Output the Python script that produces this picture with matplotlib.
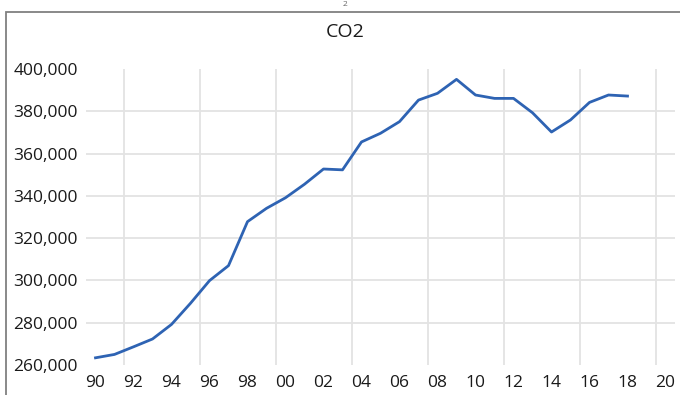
import matplotlib
matplotlib.use("Agg")
import matplotlib.pyplot as plt
from matplotlib.patches import Rectangle
from matplotlib.ticker import FuncFormatter, FixedLocator

# Annual CO2 emissions (tonnes)
years = list(range(1990, 2019))
co2 = [263400, 265000, 268600, 272300, 279200, 289200, 299900, 307000,
       327800, 334100, 339100, 345500, 352700, 352300, 365500, 369600,
       375100, 385300, 388500, 395100, 387700, 386100, 386100, 379300,
       370200, 375900, 384200, 387700, 387200]

x_tick_years = list(range(1990, 2021, 2))
x_tick_labels = [f"{y % 100:02d}" for y in x_tick_years]
y_ticks = list(range(260000, 400001, 20000))

W, H = 680, 395
fig = plt.figure(figsize=(W / 100, H / 100), dpi=100)
fig.patch.set_facecolor("white")

ax = fig.add_axes([86 / W, 1 - 365 / H, (675 - 86) / W, (365 - 69) / H])
ax.plot(years, co2, color="#2e63b3", linewidth=2.0, solid_joinstyle="round",
        zorder=3)

ax.set_xlim(1989.5, 2020.5)
ax.set_ylim(260000, 400000)

ax.set_xticks(x_tick_years)
ax.set_xticklabels(x_tick_labels)
ax.xaxis.set_minor_locator(FixedLocator([y + 0.5 for y in range(1991, 2020, 4)]))
ax.set_yticks(y_ticks)
ax.yaxis.set_major_formatter(FuncFormatter(lambda v, _: f"{int(v):,}"))

font = "Open Sans"
for lab in ax.get_xticklabels() + ax.get_yticklabels():
    lab.set_fontfamily(font)
    lab.set_fontsize(12.5)
    lab.set_color("#1a1a1a")

ax.tick_params(axis="both", which="both", length=0)
ax.tick_params(axis="x", pad=7)
ax.tick_params(axis="y", pad=6)

ax.grid(False)
ax.grid(axis="x", which="minor", color="#e3e3e3", linewidth=1.3)
ax.grid(axis="y", which="major", color="#e3e3e3", linewidth=1.3)
ygl = ax.get_ygridlines()
ygl[0].set_visible(False)
ygl[-1].set_visible(False)

for s in ax.spines.values():
    s.set_visible(False)

fig.text(345 / W, 1 - 32 / H, "CO2", ha="center", va="center",
         fontfamily=font, fontsize=14, color="#1a1a1a")

# Subscript of the caption line above the chart
fig.text(345 / W, 1 - 1 / H, "2", ha="center", va="top",
         fontfamily=font, fontsize=6, color="#666666")

# Chart frame
fig.add_artist(Rectangle((6 / W, -0.05), 1.0, 1 - 12 / H + 0.05,
                         transform=fig.transFigure, fill=False,
                         edgecolor="#808080", linewidth=1.3))

fig.savefig("out.png", dpi=100, facecolor="white")
